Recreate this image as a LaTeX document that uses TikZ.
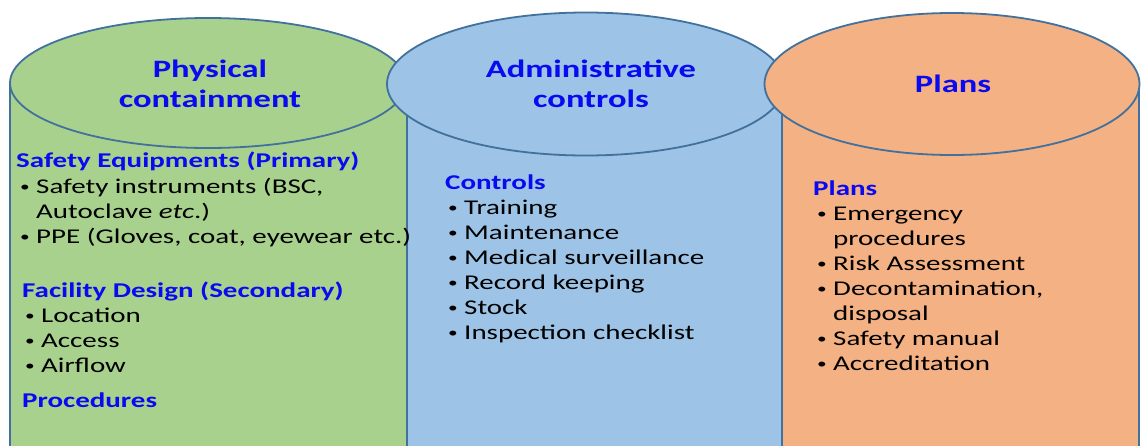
\documentclass[tikz,border=0pt]{standalone}
\usepackage{fontspec}
\setmainfont{Carlito}[FakeStretch=1.38]
\definecolor{gfill}{RGB}{169,209,142}
\definecolor{bfill}{RGB}{157,195,230}
\definecolor{ofill}{RGB}{244,177,131}
\definecolor{edge}{RGB}{65,113,156}
\definecolor{hblue}{RGB}{10,10,240}
\newcommand{\bul}{\makebox[17pt][l]{\hspace{1pt}\raisebox{1.5pt}{\fontsize{14}{14}\selectfont •}}}
\begin{document}
\begin{tikzpicture}[x=1pt,y=-1pt,
  shapeline/.style={draw=edge,line width=1.8pt},
  title/.style={anchor=base,inner sep=0pt,text=hblue,font=\fontsize{25}{30}\selectfont\bfseries},
  sub/.style={anchor=base west,inner sep=0pt,text=hblue,font=\fontsize{21}{25}\selectfont\bfseries},
  item/.style={anchor=base west,inner sep=0pt,text=black,font=\fontsize{21}{25}\selectfont}]
\useasboundingbox (0,0) rectangle (1141,445);
\clip (0,0) rectangle (1141,445);
% green cylinder
\filldraw[shapeline,fill=gfill] (10,83) rectangle (407,470);
\filldraw[shapeline,fill=gfill] (208,83) ellipse [x radius=198pt, y radius=65pt];
% blue cylinder
\filldraw[shapeline,fill=bfill] (407,84) rectangle (782,470);
\filldraw[shapeline,fill=bfill] (586,84) ellipse [x radius=199pt, y radius=71.5pt];
% orange cylinder
\filldraw[shapeline,fill=ofill] (782,84) rectangle (1139,470);
\filldraw[shapeline,fill=ofill] (952,84) ellipse [x radius=187.5pt, y radius=71pt];
% titles
\node[title] (t1a) at (210,77) {Physical};
\node[title] (t1b) at (210,107) {containment};
\node[title] (t2a) at (591,77) {Administrative};
\node[title] (t2b) at (591,107) {controls};
\node[title] (t3) at (953,92) {Plans};
% green texts
\node[sub] (g1) at (16,167) {Safety Equipments (Primary)};
\node[item] (g2) at (19,193) {\bul Safety instruments (BSC,};
\node[item] (g3) at (36,218) {Autoclave \textit{etc}.)};
\node[item] (g4) at (19,243) {\bul PPE (Gloves, coat, eyewear etc.)};
\node[sub] (g5) at (22,297) {Facility Design (Secondary)};
\node[item] (g6) at (24,322) {\bul Location};
\node[item] (g7) at (24,347) {\bul Access};
\node[item] (g8) at (24,372) {\bul Airflow};
\node[sub] (g9) at (22,407) {Procedures};
% blue texts
\node[sub] (b1) at (445,189) {Controls};
\node[item] (b2) at (447,214) {\bul Training};
\node[item] (b3) at (447,239) {\bul Maintenance};
\node[item] (b4) at (447,264) {\bul Medical surveillance};
\node[item] (b5) at (447,289) {\bul Record keeping};
\node[item] (b6) at (447,314) {\bul Stock};
\node[item] (b7) at (447,339) {\bul Inspection checklist};
% orange texts
\node[sub] (o1) at (813,195) {Plans};
\node[item] (o2) at (816,220) {\bul Emergency};
\node[item] (o3) at (833,245) {procedures};
\node[item] (o4) at (816,270) {\bul Risk Assessment};
\node[item] (o5) at (816,295) {\bul Decontamination,};
\node[item] (o6) at (833,320) {disposal};
\node[item] (o7) at (816,345) {\bul Safety manual};
\node[item] (o8) at (816,370) {\bul Accreditation};
\end{tikzpicture}
\end{document}
